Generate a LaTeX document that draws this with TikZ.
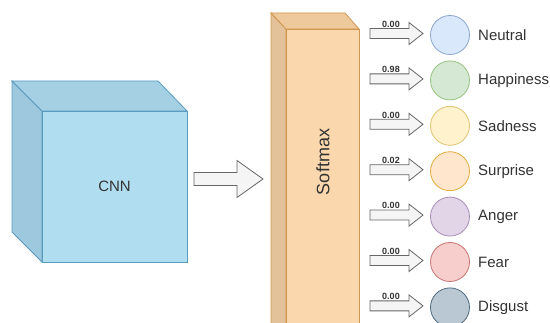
\documentclass[tikz,border=0pt]{standalone}
\usepackage{fontspec}
\setmainfont{Liberation Sans}
\definecolor{cnnfront}{HTML}{B1DDF0}
\definecolor{cnntop}{HTML}{A5D0E4}
\definecolor{cnnside}{HTML}{9DC8DD}
\definecolor{cnnline}{HTML}{5A9CC0}
\definecolor{smxfront}{HTML}{FAD7AC}
\definecolor{smxtop}{HTML}{EEC99C}
\definecolor{smxside}{HTML}{E4C299}
\definecolor{smxline}{HTML}{D0954F}
\definecolor{arrfill}{HTML}{F5F5F5}
\definecolor{arrline}{HTML}{666666}
\definecolor{txt}{HTML}{333333}
\definecolor{c1f}{HTML}{DAE8FC}\definecolor{c1d}{HTML}{8AA6CF}
\definecolor{c2f}{HTML}{D5E8D4}\definecolor{c2d}{HTML}{97C27E}
\definecolor{c3f}{HTML}{FFF2CC}\definecolor{c3d}{HTML}{DEC470}
\definecolor{c4f}{HTML}{FFE6CC}\definecolor{c4d}{HTML}{E0AD38}
\definecolor{c5f}{HTML}{E1D5E7}\definecolor{c5d}{HTML}{AA8DB7}
\definecolor{c6f}{HTML}{F8CECC}\definecolor{c6d}{HTML}{C77470}
\definecolor{c7f}{HTML}{BAC8D3}\definecolor{c7d}{HTML}{4F6A7F}
\tikzset{
  blockarrow/.style={fill=arrfill, draw=arrline, line width=0.8pt, line join=miter},
  emocircle/.style={circle, minimum size=39pt, inner sep=0pt, line width=0.8pt},
  emolabel/.style={anchor=west, text=txt, font=\fontsize{15}{17}\selectfont, inner sep=0pt},
  problabel/.style={anchor=south, text=txt, font=\bfseries\fontsize{9}{10}\selectfont, inner sep=1pt}
}
% #1 x start, #2 x head start, #3 x tip, #4 y centre, #5 shaft half, #6 head half
\newcommand{\myblockarrow}[6]{%
  \draw[blockarrow] (#1,#4-#5) -- (#2,#4-#5) -- (#2,#4-#6) -- (#3,#4) -- (#2,#4+#6) -- (#2,#4+#5) -- (#1,#4+#5) -- cycle;}
\newcommand{\emorow}[5]{% #1 name, #2 y, #3 prob, #4 colour key, #5 label
  \myblockarrow{370}{409}{423}{#2-1.5}{5}{11}
  \node[problabel] (p#1) at (391,#2-6.5) {#3};
  \node[emocircle, fill=#4f, draw=#4d] (#1) at (450,#2) {};
  \node[emolabel] (l#1) at (478,#2) {#5};}
\begin{document}
\begin{tikzpicture}[x=1pt,y=-1pt]
\clip (0,0) rectangle (550,323);
% CNN cube
\filldraw[fill=cnnside, draw=cnnline, line width=0.8pt] (12,81) -- (42,111) -- (42,262) -- (12,232) -- cycle;
\filldraw[fill=cnntop, draw=cnnline, line width=0.8pt] (12,81) -- (158,81) -- (187,111) -- (42,111) -- cycle;
\node[draw=cnnline, fill=cnnfront, line width=0.8pt, minimum width=145pt, minimum height=151pt, text=txt, font=\fontsize{15}{17}\selectfont] (cnn) at (114.5,186.5) {CNN};
% big arrow
\myblockarrow{194}{237}{263}{179}{6.5}{18.5}
% Softmax box
\filldraw[fill=smxside, draw=smxline, line width=0.8pt] (271,13) -- (286,29) -- (286,345) -- (271,329) -- cycle;
\filldraw[fill=smxtop, draw=smxline, line width=0.8pt] (271,13) -- (345,13) -- (359,29) -- (286,29) -- cycle;
\node[draw=smxline, fill=smxfront, line width=0.8pt, minimum width=73pt, minimum height=316pt, inner sep=0pt] (smx) at (322.5,187) {};
\node[rotate=90, text=txt, font=\fontsize{18}{20}\selectfont] (smxt) at (323,162) {Softmax};
% rows
\emorow{neutral}{35}{0.00}{c1}{Neutral}
\emorow{happy}{80.4}{0.98}{c2}{Happiness}
\emorow{sad}{125.8}{0.00}{c3}{Sadness}
\emorow{surprise}{171.2}{0.02}{c4}{Surprise}
\emorow{anger}{216.6}{0.00}{c5}{Anger}
\emorow{fear}{262}{0.00}{c6}{Fear}
\emorow{disgust}{307.4}{0.00}{c7}{Disgust}
\end{tikzpicture}
\end{document}
